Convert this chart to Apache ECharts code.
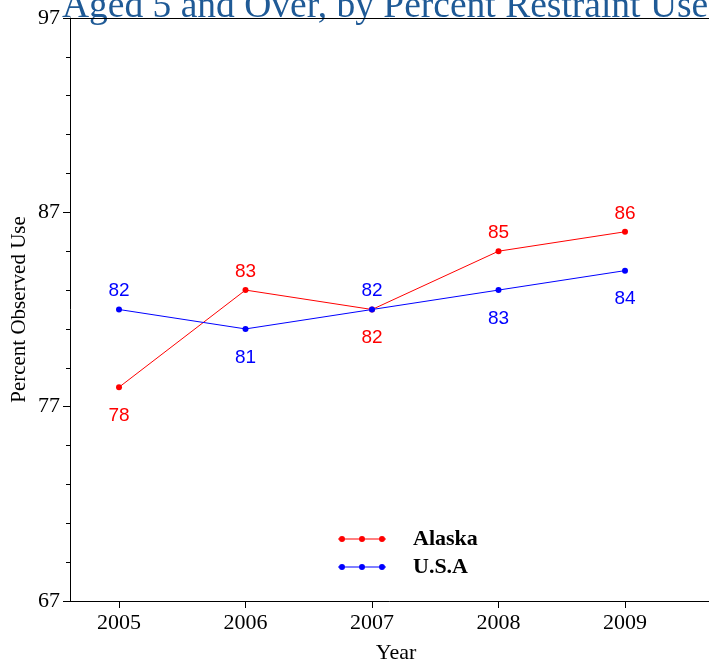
<!DOCTYPE html>
<html>
<head>
<meta charset="utf-8">
<script src="https://cdn.jsdelivr.net/npm/echarts@6/dist/echarts.min.js"></script>
<style>
  html, body { margin: 0; padding: 0; background: #fff; }
  #chart { width: 709px; height: 664px; }
</style>
</head>
<body>
<div id="chart"></div>
<script>
// data
var years = [2005, 2006, 2007, 2008, 2009];
var alaska = [78, 83, 82, 85, 86];
var usa = [82, 81, 82, 83, 84];
var yTicks = [67, 77, 87, 97];

var serif = "'Liberation Serif', 'Times New Roman', serif";
var sans = "'Liberation Sans', Arial, sans-serif";

// legend icon: line with three dots
var legendIcon = "path://M0,3.5L48,3.5L48,4.5L0,4.5Z" +
  "M1,4a3,3 0 1,1 6,0a3,3 0 1,1 -6,0Z" +
  "M21,4a3,3 0 1,1 6,0a3,3 0 1,1 -6,0Z" +
  "M41,4a3,3 0 1,1 6,0a3,3 0 1,1 -6,0Z";

// label above the point for the higher series, below for the lower one
function makeData(vals, other, isAlaska) {
  return years.map(function (y, i) {
    var up = isAlaska ? vals[i] > other[i] : vals[i] >= other[i];
    return {
      value: [y, vals[i]],
      label: up ? { position: "top", distance: 6 } : { position: "bottom", distance: 16 }
    };
  });
}

var chart = echarts.init(document.getElementById("chart"));
var option = {
  animation: false,
  grid: { left: 70, top: 18, bottom: 63, right: -13, outerBoundsMode: "none", containLabel: false },
  graphic: [
    {
      type: "text",
      left: 62,
      top: -12,
      style: {
        text: "Aged 5 and Over, by Percent Restraint Use",
        fill: "#1f5a96",
        font: "37.5px " + serif
      }
    }
  ],
  legend: {
    orient: "vertical",
    left: 333,
    top: 523,
    itemWidth: 48,
    itemHeight: 8,
    itemGap: 6,
    icon: legendIcon,
    textStyle: {
      fontFamily: serif,
      fontWeight: "bold",
      fontSize: 22,
      lineHeight: 22,
      color: "#000",
      padding: [0, 0, 0, 22]
    },
    data: ["Alaska", "U.S.A"]
  },
  xAxis: [
    {
      type: "value",
      min: 2004.6126,
      max: 2009.7668,
      name: "Year",
      nameLocation: "middle",
      nameGap: 41,
      nameMoveOverlap: false,
      nameTextStyle: { fontFamily: serif, fontSize: 22, color: "#000" },
      splitLine: { show: false },
      axisLine: { lineStyle: { color: "#000", width: 1 } },
      axisTick: { customValues: years, length: 7, lineStyle: { color: "#000" } },
      axisLabel: {
        customValues: years,
        margin: 11,
        fontFamily: serif,
        fontSize: 22,
        color: "#000",
        formatter: function (v) { return String(v); }
      }
    },
    {
      //上边框
      type: "value",
      position: "top",
      min: 2004.6126,
      max: 2009.7668,
      splitLine: { show: false },
      axisLine: { show: true, lineStyle: { color: "#000", width: 1 } },
      axisTick: { show: false },
      axisLabel: { show: false }
    }
  ],
  yAxis: {
    type: "value",
    min: yTicks[0],
    max: yTicks[yTicks.length - 1],
    interval: 10,
    name: "Percent Observed Use",
    nameLocation: "middle",
    nameGap: 40,
    nameMoveOverlap: false,
    nameTextStyle: { fontFamily: serif, fontSize: 21, color: "#000" },
    splitLine: { show: false },
    axisLine: { show: true, lineStyle: { color: "#000", width: 1 } },
    axisTick: { show: true, length: 7, lineStyle: { color: "#000" } },
    minorTick: { show: true, splitNumber: 5, length: 4, lineStyle: { color: "#000" } },
    axisLabel: { margin: 10, fontFamily: serif, fontSize: 22, color: "#000" }
  },
  series: [
    {
      name: "Alaska",
      type: "line",
      color: "#ff0000",
      symbol: "circle",
      symbolSize: 6,
      lineStyle: { width: 1 },
      label: { show: true, fontFamily: sans, fontSize: 19, color: "#ff0000" },
      data: makeData(alaska, usa, true)
    },
    {
      name: "U.S.A",
      type: "line",
      color: "#0000ff",
      symbol: "circle",
      symbolSize: 6,
      lineStyle: { width: 1 },
      label: { show: true, fontFamily: sans, fontSize: 19, color: "#0000ff" },
      data: makeData(usa, alaska, false)
    }
  ]
};
chart.setOption(option);
window.onresize = function () {
  chart.resize();
};
</script>
</body>
</html>
